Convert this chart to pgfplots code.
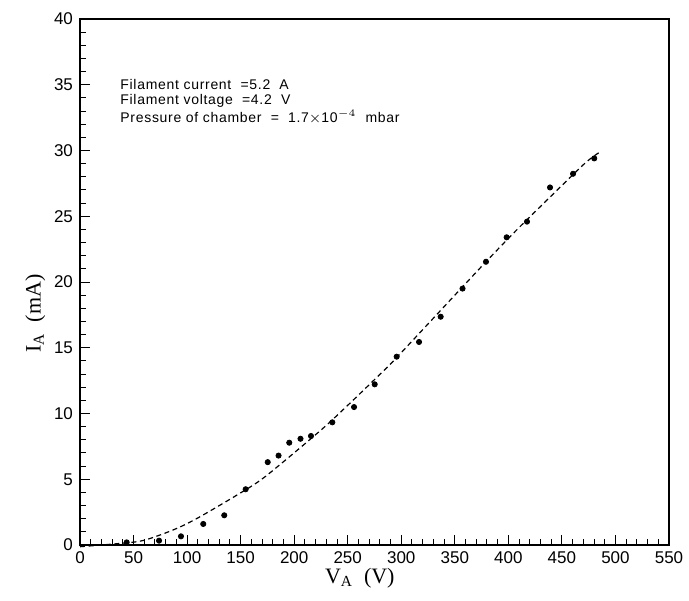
\documentclass[border=0pt]{standalone}
\usepackage{pgfplots}
\pgfplotsset{compat=1.18}
\usepackage{fontspec}
\setmainfont{Liberation Serif}
\newfontfamily\ticksans{Liberation Sans}
\newfontfamily\notesans[LetterSpace=5]{Liberation Sans}

% Anode current vs anode voltage, measured points
\pgfplotstableread{
V     I
43.6  0.20
73.8  0.33
94.3  0.66
115.1 1.60
134.7 2.26
154.7 4.24
175.3 6.30
185.4 6.80
195.4 7.78
205.9 8.08
215.7 8.29
235.6 9.33
255.9 10.49
275.2 12.22
295.7 14.32
316.6 15.44
336.8 17.36
357.2 19.50
379.1 21.54
398.4 23.40
417.4 24.59
438.9 27.19
460.4 28.23
480.2 29.40
}\measured

% Guide curve through the data
\pgfplotstableread{
V     I
0     -0.13
53.2  0.25
74.7  0.76
93.4  1.37
112.1 2.15
146.6 3.80
172.8 5.19
230.0 9.10
286.4 13.48
311.0 15.59
379.1 21.54
406.2 23.83
432.3 25.93
471.5 29.03
485.6 29.89
}\guide

\begin{document}
\begin{tikzpicture}
\begin{axis}[
  scale only axis, width=294.5pt, height=263pt,
  xmin=0, xmax=550, ymin=0, ymax=40,
  xtick={0,50,...,550}, ytick={0,5,...,40},
  minor x tick num=4, minor y tick num=4,
  xtick pos=bottom, ytick pos=left, tick align=inside,
  major tick length=5pt, minor tick length=3pt,
  axis line style={line width=0.7pt},
  tick style={line width=0.5pt, black},
  ticklabel style={font=\ticksans\fontsize{8.5}{10}\selectfont},
  /pgf/number format/assume math mode=true,
  clip=false,
  xlabel={V\textsubscript{A}\ \ (V)},
  ylabel={I\textsubscript{A}\ \ (mA)},
  label style={font=\fontsize{11}{13}\selectfont},
  xlabel style={at={(axis description cs:0.475,-0.063)}, anchor=center},
  ylabel style={at={(axis description cs:-0.076,0.44)}, anchor=center},
]
\addplot[black, line width=0.6pt, dash pattern=on 2.5pt off 1.8pt, smooth, tension=0.4] table[x=V, y=I] {\guide};
\addplot[only marks, mark=*, mark size=1.3pt, black] table[x=V, y=I] {\measured};
\node[anchor=north west, inner sep=0pt, align=left,
      font=\notesans\fontsize{7}{7.5}\selectfont]
  at (axis description cs:0.068,0.886)
  {Filament current \ =5.2 \ A\\
   Filament voltage \ =4.2 \ V\\
   Pressure of chamber \ = \ 1.7$\times$10\textsuperscript{$-4$} \ mbar};
\end{axis}
\pgfresetboundingbox
\path[use as bounding box] (-40pt,-27.5pt) rectangle (304.5pt,272.5pt);
\end{tikzpicture}
\end{document}
